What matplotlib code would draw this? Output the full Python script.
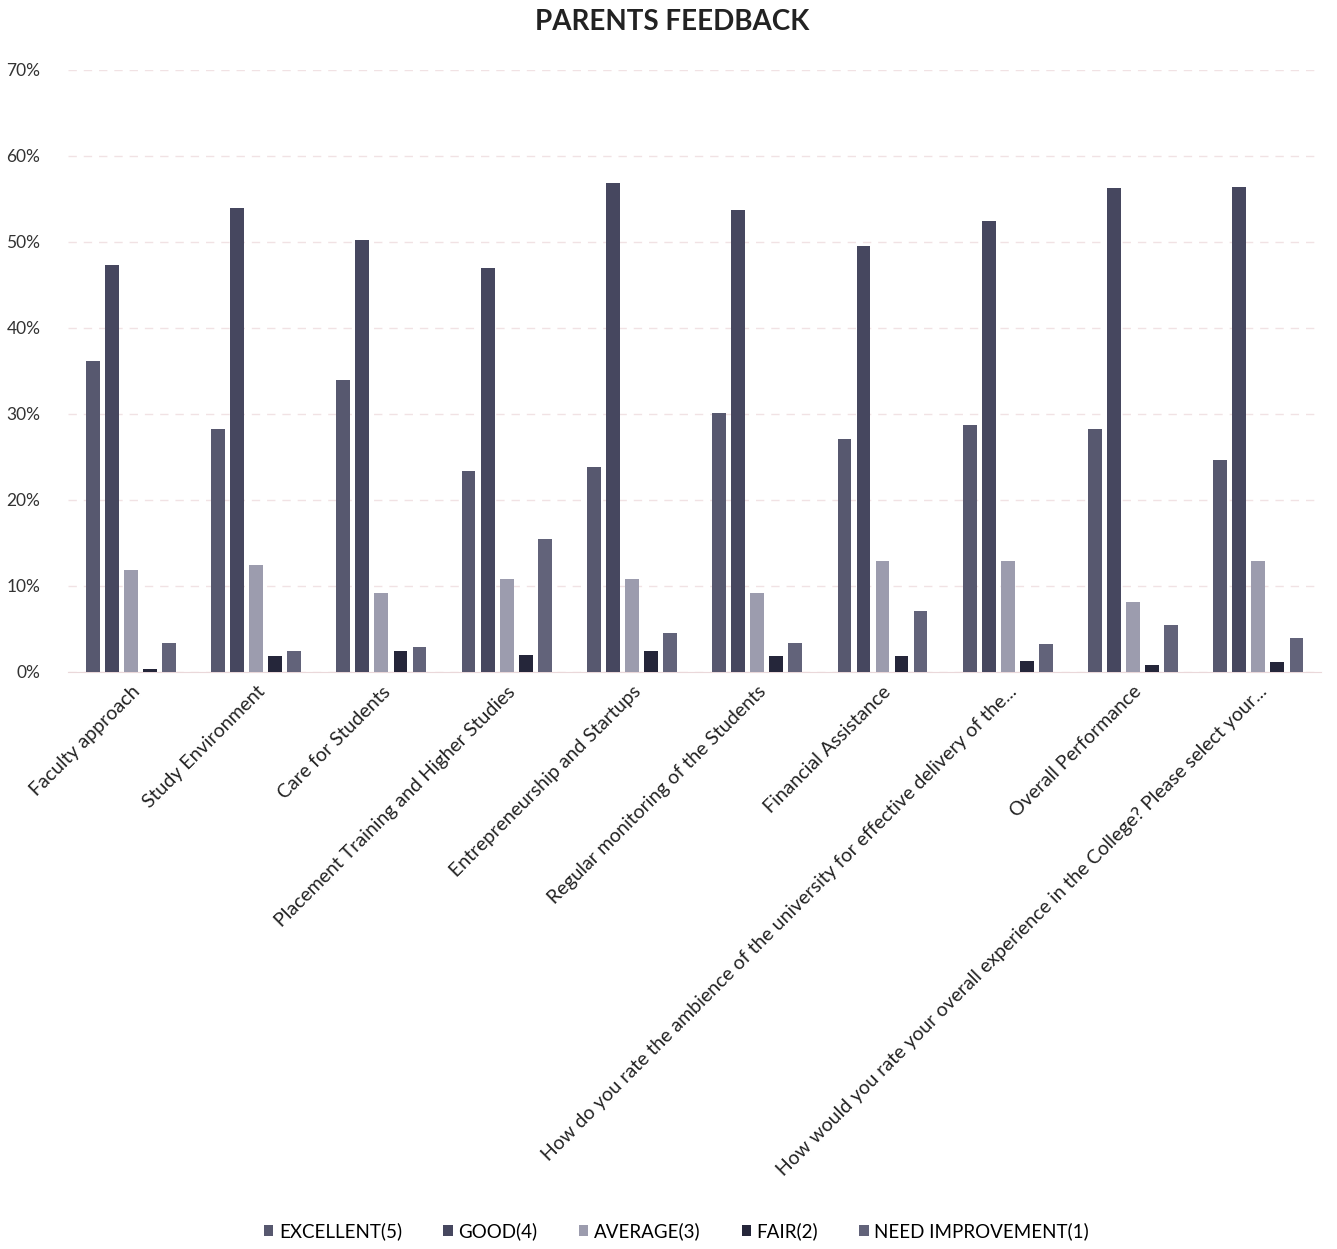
import numpy as np
import matplotlib
matplotlib.use("Agg")
import matplotlib.pyplot as plt
from matplotlib.ticker import PercentFormatter

# Categories and ratings (percent of responses)
categories = [
    "Faculty approach",
    "Study Environment",
    "Care for Students",
    "Placement Training and Higher Studies",
    "Entrepreneurship and Startups",
    "Regular monitoring of the Students",
    "Financial Assistance",
    "How do you rate the ambience of the university for effective delivery of the...",
    "Overall Performance",
    "How would you rate your overall experience in the College? Please select your...",
]
series_names = ["EXCELLENT(5)", "GOOD(4)", "AVERAGE(3)", "FAIR(2)", "NEED IMPROVEMENT(1)"]

excellent = [36.1, 28.3, 33.9, 23.4, 23.8, 30.1, 27.1, 28.7, 28.3, 24.6]
good = [47.3, 54.0, 50.2, 47.0, 56.9, 53.7, 49.5, 52.4, 56.3, 56.4]
average = [11.9, 12.4, 9.2, 10.8, 10.8, 9.2, 12.9, 12.9, 8.1, 12.9]
fair = [0.4, 1.9, 2.4, 2.0, 2.4, 1.9, 1.9, 1.3, 0.8, 1.2]
need_improvement = [3.4, 2.4, 2.9, 15.5, 4.5, 3.4, 7.1, 3.3, 5.5, 3.9]

colors = ["#57586f", "#46475f", "#9c9cae", "#25263a", "#62637a"]

plt.rcParams["font.family"] = ["Lato", "DejaVu Sans"]

fig = plt.figure(figsize=(13.37, 12.49), dpi=100)
ax = fig.add_axes([0.051, 0.462, 0.937, 0.482])

x = np.arange(len(categories))
slot = 0.152
width = 0.11
all_series = [excellent, good, average, fair, need_improvement]
for i, (vals, name, col) in enumerate(zip(all_series, series_names, colors)):
    ax.bar(x + (i - 2) * slot, vals, width, color=col, label=name, zorder=3)

ax.set_xlim(-0.5, len(categories) - 0.5)
ax.set_ylim(0, 70)
ax.set_yticks(range(0, 71, 10))
ax.yaxis.set_major_formatter(PercentFormatter(decimals=0))
ax.grid(axis="y", color="#f1e2e4", linestyle=(0, (6, 5)), linewidth=1.0, zorder=0)
for s in ["top", "right", "left"]:
    ax.spines[s].set_visible(False)
ax.spines["bottom"].set_color("#ead8da")
ax.tick_params(axis="both", length=0)
ax.tick_params(axis="y", labelsize=12.5, labelcolor="#333333", pad=20)

ax.set_xticks(x)
ax.set_xticklabels(categories, rotation=45, ha="right", rotation_mode="anchor",
                   fontsize=14, color="#222222")
ax.tick_params(axis="x", pad=8)

fig.text(0.503, 0.982, "PARENTS FEEDBACK", ha="center", va="center",
         fontsize=20, fontweight="bold", color="#222222")

fig.legend(loc="center", bbox_to_anchor=(0.506, 0.014), ncol=5, frameon=False,
           fontsize=13.5, handlelength=0.5, handleheight=0.5, handletextpad=0.3,
           columnspacing=2.2)

fig.savefig("out.png", dpi=100, facecolor="white")
